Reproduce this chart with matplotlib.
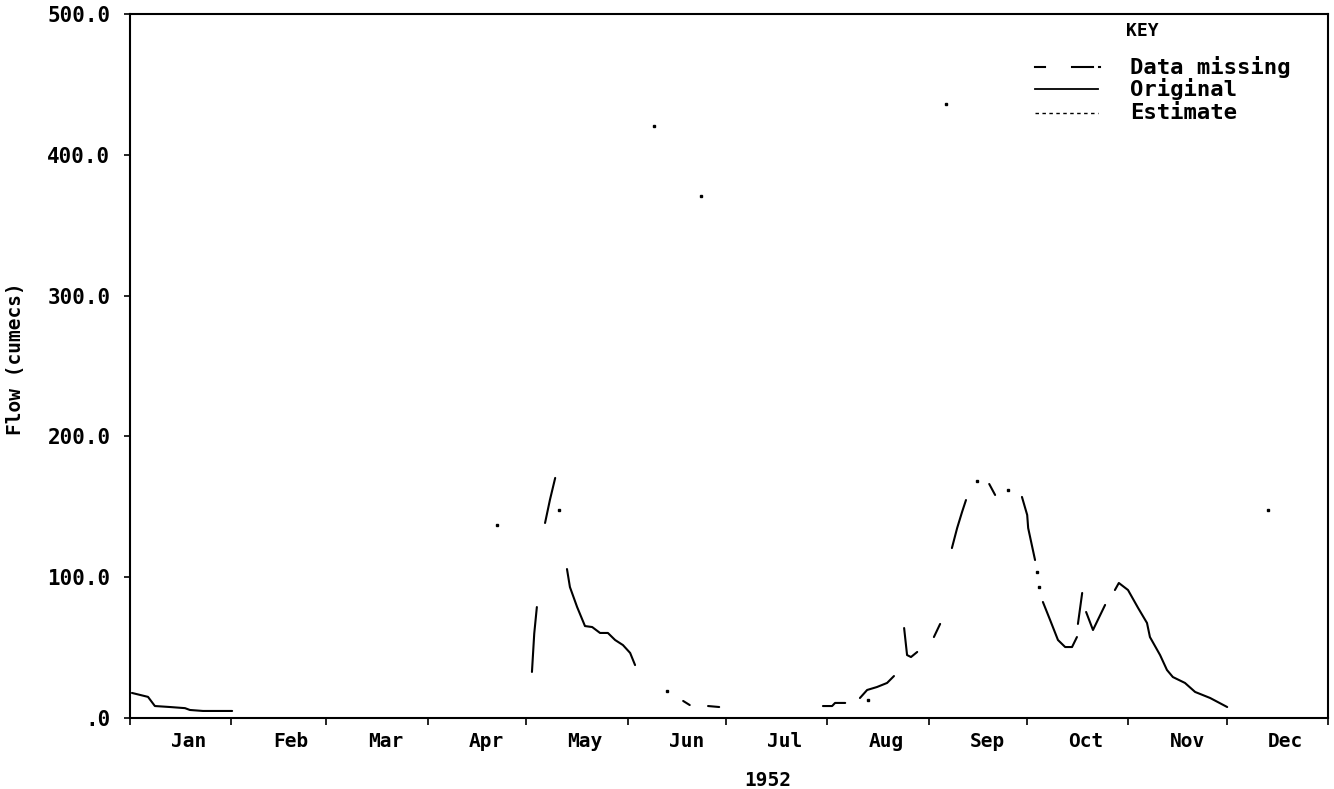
import numpy as np
import matplotlib
matplotlib.use("Agg")
import matplotlib.pyplot as plt

# 1952 daily flow (day of year, cumecs); NaN = gap in record
days = [0.6, 5.5, 7.6, 12.2, 16.8, 18.3, 22.3, 31.2, np.nan,
        122.8, 123.5, 124.3, np.nan,
        126.8, 128.3, 129.9, np.nan,
        133.5, 134.4, 136.6, 139.0, 141.2, 143.6, 146.0, 148.2, 150.6, 152.8, 154.3, np.nan,
        169.0, 171.0, np.nan,
        176.6, 180.0, np.nan,
        211.7, 214.5, 215.4, 218.5, np.nan,
        223.0, 225.2, 228.2, 231.3, 233.4, np.nan,
        236.5, 237.4, 238.6, 240.5, np.nan,
        245.6, 247.5, np.nan,
        251.1, 252.7, 254.2, 255.4, np.nan,
        262.5, 264.3, np.nan,
        272.5, 274.1, 274.4, 276.5, np.nan,
        278.9, 281.1, 283.5, 285.7, 287.8, 289.3, np.nan,
        289.6, 290.9, np.nan,
        292.1, 294.2, 297.9, np.nan,
        300.9, 302.1, 304.9, 308.0, 310.7, 311.6, 314.7, 316.8, 318.6, 322.3, 325.4, 330.0, 335.2]
flow = [17.8, 15.0, 8.5, 7.8, 7.0, 5.7, 5.0, 5.0, np.nan,
        32.7, 60.0, 78.8, np.nan,
        138.5, 155.0, 170.5, np.nan,
        105.8, 93.0, 78.8, 65.3, 64.6, 60.4, 60.4, 55.4, 51.8, 46.2, 37.6, np.nan,
        12.1, 9.2, np.nan,
        8.5, 7.8, np.nan,
        8.5, 8.5, 10.7, 10.7, np.nan,
        14.2, 19.9, 22.0, 24.9, 29.8, np.nan,
        63.9, 44.7, 43.3, 46.9, np.nan,
        57.5, 66.8, np.nan,
        120.7, 134.9, 146.3, 154.8, np.nan,
        166.2, 158.4, np.nan,
        157.0, 144.2, 134.9, 112.2, np.nan,
        82.4, 69.6, 55.4, 50.4, 50.4, 57.5, np.nan,
        66.8, 88.8, np.nan,
        75.3, 62.5, 80.3, np.nan,
        90.9, 95.9, 90.9, 78.1, 67.5, 57.5, 44.7, 34.1, 29.1, 24.9, 18.5, 14.2, 7.8]

# isolated estimate points
est_days = [112.0, 131.0, 164.0, 258.8, 268.3, 277.0, 277.7, 347.7, 160.0, 174.5, 249.2, 225.5]
est_flow = [137.0, 148.0, 19.2, 168.3, 162.0, 103.7, 93.0, 147.7, 420.5, 370.7, 436.0, 12.8]

months = ["Jan", "Feb", "Mar", "Apr", "May", "Jun", "Jul", "Aug", "Sep", "Oct", "Nov", "Dec"]
month_start = [0, 31, 60, 91, 121, 152, 182, 213, 244, 274, 305, 335, 366]
yticks = [0, 100, 200, 300, 400, 500]
ylabels = [".0", "100.0", "200.0", "300.0", "400.0", "500.0"]
key_labels = ["Data missing", "Original", "Estimate"]

mono = "DejaVu Sans Mono"

fig = plt.figure(figsize=(13.34, 7.89), dpi=100)
ax = fig.add_axes([130 / 1334, 1 - 718 / 789, 1198 / 1334, 704 / 789])

ax.plot(days, flow, color="black", linewidth=1.5, solid_capstyle="round")
ax.plot(est_days, est_flow, linestyle="none", marker="s", markersize=1.8, color="black")

ax.set_xlim(0, 366)
ax.set_ylim(0, 500)

ax.set_xticks(month_start)
ax.set_xticklabels([])
ax.set_xticks([m + 18 for m in month_start[:-1]], minor=True)
ax.set_xticklabels(months, minor=True, fontfamily=mono, fontsize=14, fontweight="bold")
ax.tick_params(axis="x", which="major", direction="out", length=5, width=1.2)
ax.tick_params(axis="x", which="minor", length=0, pad=10)

ax.set_yticks(yticks)
ax.set_yticklabels(ylabels, fontfamily=mono, fontsize=15, fontweight="bold")
ax.tick_params(axis="y", direction="out", length=4, width=1.2, pad=10)

for s in ax.spines.values():
    s.set_linewidth(1.5)

ax.set_xlabel("1952", fontfamily=mono, fontsize=14, fontweight="bold")
ax.xaxis.set_label_coords(0.5326, -0.075)
ax.set_ylabel("Flow (cumecs)", fontfamily=mono, fontsize=14, fontweight="bold")
ax.yaxis.set_label_coords(-0.088, 0.51)

# KEY block (drawn by hand, like the plotter did)
ax.text(0.8447, 0.9759, "KEY", transform=ax.transAxes, ha="center", va="center",
        fontfamily=mono, fontsize=13, fontweight="bold")
row_y = [0.9247, 0.8935, 0.8594]
ax.plot([0.7554, 0.7640, np.nan, 0.7860, 0.8040, np.nan, 0.8090, 0.8100],
        [row_y[0]] * 8, color="black", linewidth=1.5, transform=ax.transAxes)
ax.plot([0.7554, 0.8080], [row_y[1]] * 2, color="black", linewidth=1.3,
        transform=ax.transAxes)
ax.plot([0.7554, 0.8080], [row_y[2]] * 2, color="black", linewidth=1.0,
        dashes=(2.5, 2.5), transform=ax.transAxes)
for yy, lab in zip(row_y, key_labels):
    ax.text(0.8347, yy, lab, transform=ax.transAxes, ha="left", va="center",
            fontfamily=mono, fontsize=16, fontweight="bold")

fig.savefig("out.png", dpi=100)
